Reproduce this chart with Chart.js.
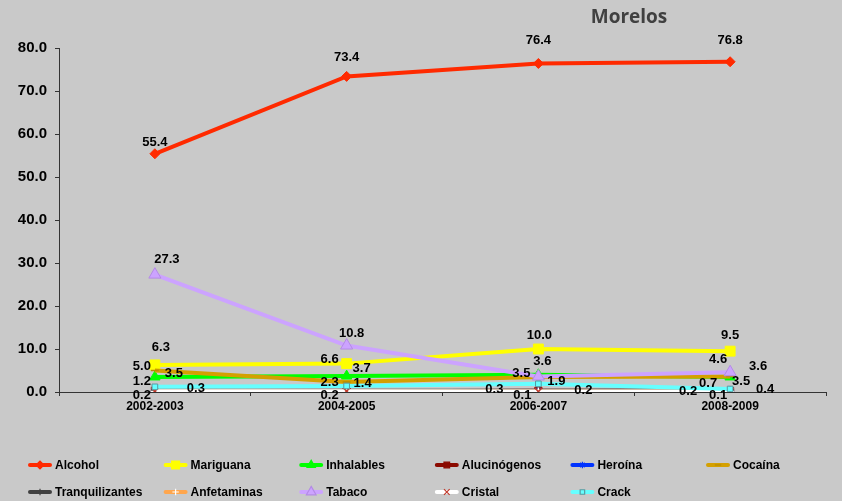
<!DOCTYPE html>
<html>
<head>
<meta charset="utf-8">
<script src="https://cdn.jsdelivr.net/npm/chart.js"></script>
<style>
  html, body { margin: 0; padding: 0; background: #c9c9c9; }
  #wrap { width: 842px; height: 501px; position: relative; }
  canvas { display: block; }
</style>
</head>
<body>
<div id="wrap"><canvas id="c" width="842" height="501"></canvas></div>
<script>
// ---- data ----
const categories = ['2002-2003', '2004-2005', '2006-2007', '2008-2009'];
const alcohol        = [55.4, 73.4, 76.4, 76.8];
const mariguana      = [6.3, 6.6, 10.0, 9.5];
const inhalables     = [3.5, 3.7, 4.0, 3.5];
const alucinogenos   = [0.3, 0.2, 0.3, 0.2];
const heroina        = [0.1, 0.1, 0.2, 0.1];
const cocaina        = [5.0, 2.3, 3.5, 3.6];
const tranquilizantes= [0.3, 0.3, 0.3, 0.4];
const anfetaminas    = [0.1, 0.1, 0.1, 0.1];
const tabaco         = [27.3, 10.8, 3.6, 4.6];
const cristal        = [0.2, 0.2, 0.1, 0.1];
const crack          = [1.2, 1.4, 1.9, 0.7];
const yMin = 0, yMax = 80, yStep = 10;
const title = 'Morelos';

// ---- styles (label offsets relative to each point, null = no label) ----
const seriesDefs = [
  { label: 'Alcohol', data: alcohol, color: '#ff2a00', style: 'rectRot', r: 5, fill: '#ff2a00', border: '#ff2a00',
    lab: [[0,-11],[0,-19],[0,-23],[0,-21]] },
  { label: 'Mariguana', data: mariguana, color: '#ffff00', style: 'rect', r: 7, fill: '#ffff00', border: '#ffff00',
    lab: [[6,-17],[-17,-4],[1,-14],[0,-16]] },
  { label: 'Inhalables', data: inhalables, color: '#00ff00', style: 'triangle', r: 6, fill: '#00ff00', border: '#00ff00',
    lab: [[19,-4],[15,-8],null,[11,4]] },
  { label: 'Alucinógenos', data: alucinogenos, color: '#8b0a00', style: 'rect', r: 5, fill: '#8b0a00', border: '#8b0a00',
    lab: [[41,-2],null,[-44,-1],[-42,0]] },
  { label: 'Heroína', data: heroina, color: '#0033ff', style: 'star', r: 4, fill: '#0033ff', border: '#0033ff',
    lab: [null,null,[45,-1],null] },
  { label: 'Cocaína', data: cocaina, color: '#d4a000', style: 'line', r: 4, fill: '#b88a00', border: '#b88a00',
    lab: [[-13,-4],[-17,0],[-17,-4],[28,-10]] },
  { label: 'Tranquilizantes', data: tranquilizantes, color: '#404040', style: 'cross', r: 4, fill: '#404040', border: '#404040',
    lab: [null,null,null,[35,-1]] },
  { label: 'Anfetaminas', data: anfetaminas, color: '#ffa64d', style: 'cross', r: 4, fill: '#ffffff', border: '#ffffff',
    lab: [null,null,null,null] },
  { label: 'Tabaco', data: tabaco, color: '#cca3ff', style: 'triangle', r: 7, fill: '#cca3ff', border: '#b48ae6',
    lab: [[12,-15],[5,-12],[4,-15],[-12,-13]] },
  { label: 'Cristal', data: cristal, color: '#ffffff', style: 'crossRot', r: 5, fill: '#c0392b', border: '#c0392b',
    lab: [[-13,4],[-17,4],[-16,4],[-12,4]] },
  { label: 'Crack', data: crack, color: '#66ffff', style: 'rect', r: 4, fill: '#66ffff', border: '#5a9aa0',
    lab: [[-13,-5],[16,-3],[18,-2],[-22,-6]] }
];

const FONT = '"Liberation Sans", Arial, sans-serif';

const datasets = seriesDefs.map((s, i) => ({
  label: s.label,
  data: s.data,
  borderColor: s.color,
  backgroundColor: s.color,
  borderWidth: 4,
  tension: 0,
  pointStyle: s.style,
  pointRadius: s.r,
  pointBackgroundColor: s.fill,
  pointBorderColor: s.border,
  pointBorderWidth: (s.style === 'crossRot' || s.style === 'cross' || s.style === 'star' || s.style === 'line') ? 1.5 : 1,
  order: -i
}));

const labelPlugin = {
  id: 'valueLabels',
  afterDatasetsDraw(chart) {
    const ctx = chart.ctx;
    ctx.save();
    ctx.font = 'bold 13px ' + FONT;
    ctx.fillStyle = '#000';
    ctx.textAlign = 'center';
    ctx.textBaseline = 'middle';
    seriesDefs.forEach((s, i) => {
      const meta = chart.getDatasetMeta(i);
      meta.data.forEach((pt, j) => {
        const off = s.lab[j];
        if (!off) return;
        ctx.fillText(s.data[j].toFixed(1), pt.x + off[0], pt.y + off[1]);
      });
    });
    ctx.restore();
  }
};

function drawMarker(ctx, s, x, y) {
  const opts = { pointStyle: s.style, radius: s.r * 0.8, borderWidth: 1.2, rotation: 0 };
  ctx.fillStyle = s.fill;
  ctx.strokeStyle = s.border;
  ctx.lineWidth = 1.2;
  if (Chart.helpers && Chart.helpers.drawPoint) {
    Chart.helpers.drawPoint(ctx, opts, x, y);
  } else {
    ctx.fillRect(x - 3, y - 3, 6, 6);
  }
}

const legendPlugin = {
  id: 'gridLegend',
  afterDraw(chart) {
    const ctx = chart.ctx;
    ctx.save();
    const colX = [28, 163.6, 299.2, 434.8, 570.4, 706];
    const rowY = [465, 492];
    seriesDefs.forEach((s, i) => {
      const cx = colX[i % 6];
      const cy = rowY[Math.floor(i / 6)];
      ctx.strokeStyle = s.color;
      ctx.lineWidth = 4;
      ctx.lineCap = 'round';
      ctx.beginPath();
      ctx.moveTo(cx + 2, cy);
      ctx.lineTo(cx + 22, cy);
      ctx.stroke();
      ctx.lineCap = 'butt';
      drawMarker(ctx, s, cx + 12, cy);
      ctx.fillStyle = '#000';
      ctx.font = 'bold 12px ' + FONT;
      ctx.textAlign = 'left';
      ctx.textBaseline = 'middle';
      ctx.fillText(s.label, cx + 27, cy + 1);
    });
    // title
    ctx.fillStyle = '#404040';
    ctx.font = 'bold 19px "Open Sans", ' + FONT;
    ctx.textAlign = 'center';
    ctx.textBaseline = 'middle';
    ctx.fillText(title, 629, 18);
    ctx.restore();
  }
};

new Chart(document.getElementById('c'), {
  type: 'line',
  data: { labels: categories, datasets },
  options: {
    responsive: false,
    animation: false,
    layout: { padding: { top: 48, right: 16, left: 0, bottom: 0 } },
    plugins: { legend: { display: false }, title: { display: false }, tooltip: { enabled: false } },
    scales: {
      x: {
        offset: true,
        grid: { display: true, drawOnChartArea: false, drawTicks: true, tickLength: 4, offset: true, color: '#333' },
        border: { display: true, color: '#333', width: 1 },
        ticks: { color: '#000', font: { family: FONT, size: 12, weight: 'bold' }, padding: 3, maxRotation: 0 },
        afterFit(scale) { scale.height = 109; }
      },
      y: {
        min: yMin, max: yMax,
        grid: { display: true, drawOnChartArea: false, drawTicks: true, tickLength: 4, color: '#333' },
        border: { display: true, color: '#333', width: 1 },
        ticks: { stepSize: yStep, color: '#000', font: { family: FONT, size: 15, weight: 'bold' }, padding: 8,
                 callback: v => Number(v).toFixed(1) },
        afterFit(scale) { scale.width = 59; }
      }
    }
  },
  plugins: [labelPlugin, legendPlugin]
});
</script>
</body>
</html>
